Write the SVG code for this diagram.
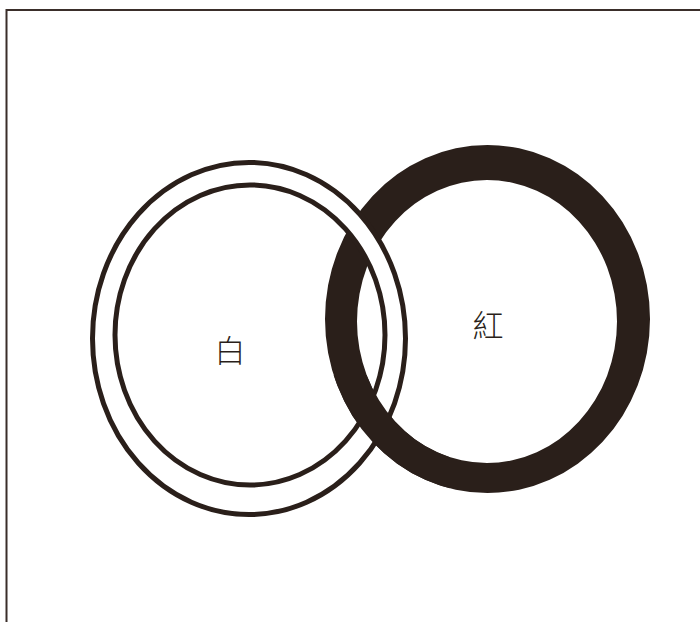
<svg xmlns="http://www.w3.org/2000/svg" width="700" height="622" viewBox="0 0 700 622">
<style>
.ink{fill:#2a1f1a;fill-rule:evenodd}
.wring{fill:#ffffff;fill-rule:evenodd;stroke:#2a1f1a;stroke-width:5}
.lbl{font-family:"Noto Sans CJK TC","Noto Sans CJK JP",sans-serif;font-size:31px;font-weight:300;fill:#2a1f1a;text-anchor:middle;dominant-baseline:central}
.frame{fill:none;stroke:#3a2e2a;stroke-width:2}
</style>
<defs>
<path id="redPath" d="M325,319 A162.5,174 0 1,0 650,319 A162.5,174 0 1,0 325,319 Z M357,321.5 A130,141.5 0 1,0 617,321.5 A130,141.5 0 1,0 357,321.5 Z"/>
<clipPath id="bottomCross"><rect x="310" y="375" width="140" height="120"/></clipPath>
</defs>
<rect width="700" height="622" fill="#ffffff"/>
<path class="frame" d="M6.5,622 V10 H700"/>
<g id="red">
<use href="#redPath" class="ink"/>
<text class="lbl" x="488" y="323">紅</text>
</g>
<g id="white">
<path class="wring" d="M92.5,338.5 A156.5,176 0 1,0 405.5,338.5 A156.5,176 0 1,0 92.5,338.5 Z M115,335 A135,150 0 1,0 385,335 A135,150 0 1,0 115,335 Z"/>
<text class="lbl" x="230" y="348">白</text>
</g>
<g id="red-over">
<use href="#redPath" class="ink" clip-path="url(#bottomCross)"/>
</g>
</svg>
